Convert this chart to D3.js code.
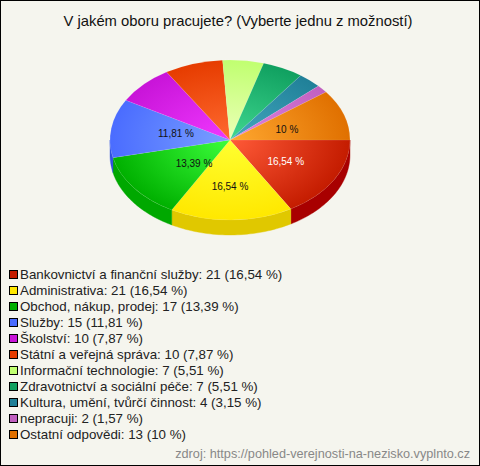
<!DOCTYPE html>
<html><head><meta charset="utf-8">
<script src="https://cdn.jsdelivr.net/npm/d3@7"></script>
<style>html,body{margin:0;padding:0;background:#f5f5ee}svg{display:block}text{font-family:"Liberation Sans",Arial,sans-serif}</style>
</head><body><div id="chart"></div>
<script>
const categories=["Bankovnictví a finanční služby","Administrativa","Obchod, nákup, prodej","Služby","Školství","Státní a veřejná správa","Informační technologie","Zdravotnictví a sociální péče","Kultura, umění, tvůrčí činnost","nepracuji","Ostatní odpovědi"];
const counts=[21,21,17,15,10,10,7,7,4,2,13];
const percentLabels=["16,54 %","16,54 %","13,39 %","11,81 %","7,87 %","7,87 %","5,51 %","5,51 %","3,15 %","1,57 %","10 %"];
const title="V jakém oboru pracujete? (Vyberte jednu z možností)";
const source="zdroj: https://pohled-verejnosti-na-nezisko.vyplnto.cz";

const edgeColors=["#c41c00","#ffe800","#00b000","#4a6cff","#c814d8","#e63c00","#c0ff70","#10a060","#208098","#c060c0","#e07000"];
const coreColors=["#ff5a38","#ffff30","#3cff3c","#7aa0ff","#f038ff","#ff6a30","#ecffb8","#40d890","#44a8c0","#e084e0","#ffa830"];
const wallColors=["#a80000","#e0c800","#00a800","#3050e0"];
const shownLabels={0:["#fff",.535,.52],1:["#111",0,.58],2:["#111",.375,.47],3:["#111",.455,.56],10:["#111",.5,.435]};

const W=480,H=466,cx=230,cy=140,rx=120,ry=80,depth=15;
const svg=d3.select("#chart").append("svg").attr("width",W).attr("height",H);
svg.append("rect").attr("width",W).attr("height",H).attr("fill","#f5f5ee");

const pie=d3.pie().value(d=>d).sort(null).startAngle(Math.PI/2).endAngle(Math.PI/2+2*Math.PI);
const arcs=pie(counts);
const arc=d3.arc().innerRadius(0).outerRadius(rx);
const toParam=a=>a-Math.PI/2;

const defs=svg.append("defs");
arcs.forEach((d,i)=>{
  const g=defs.append("radialGradient").attr("id","g"+i).attr("gradientUnits","userSpaceOnUse").attr("cx",0).attr("cy",0).attr("r",rx);
  g.append("stop").attr("offset","0").attr("stop-color",coreColors[i]);
  g.append("stop").attr("offset","1").attr("stop-color",edgeColors[i]);
});

// side walls
const px=t=>cx+rx*Math.cos(t), py=t=>cy+ry*Math.sin(t);
const wall=svg.append("g");
arcs.forEach((d,i)=>{
  const a=Math.max(toParam(d.startAngle),0), b=Math.min(toParam(d.endAngle),Math.PI);
  if(b<=a) return;
  const ts=d3.range(0,41).map(k=>a+(b-a)*k/40);
  const pts=ts.map(t=>[px(t),py(t)]).concat(ts.slice().reverse().map(t=>[px(t),py(t)+depth]));
  wall.append("path").attr("d",d3.line()(pts)+"Z").attr("fill",wallColors[i]).attr("stroke",wallColors[i]).attr("stroke-width",.4);
});

// top face
const face=svg.append("g").attr("transform",`translate(${cx},${cy}) scale(1,${ry/rx})`);
face.selectAll("path").data(arcs).join("path").attr("d",arc).attr("fill",(d,i)=>`url(#g${i})`).attr("stroke","#fff").attr("stroke-opacity",.15).attr("stroke-width",.6);

// labels
arcs.forEach((d,i)=>{
  const s=shownLabels[i]; if(!s) return;
  const t=(d.startAngle+d.endAngle)/2-Math.PI/2;
  svg.append("text").attr("x",cx+rx*Math.cos(t)*s[1]).attr("y",cy+ry*Math.sin(t)*s[2]+4)
    .attr("text-anchor","middle").attr("font-size",10).attr("fill",s[0]).text(percentLabels[i]);
});

svg.append("text").attr("x",238).attr("y",26).attr("text-anchor","middle").attr("font-size",14.8).attr("fill","#111").text(title);

const y=d3.scalePoint().domain(d3.range(categories.length)).range([274,434]);
const leg=svg.append("g").selectAll("g").data(categories).join("g").attr("transform",(d,i)=>`translate(0,${y(i)})`);
leg.append("rect").attr("x",9.5).attr("y",-3.5).attr("width",8).attr("height",8).attr("fill",(d,i)=>edgeColors[i]).attr("stroke","#000");
leg.append("text").attr("x",20).attr("y",5).attr("font-size",13.33).attr("fill","#222").text((d,i)=>`${d}: ${counts[i]} (${percentLabels[i]})`);

svg.append("text").attr("x",470).attr("y",458).attr("text-anchor","end").attr("font-size",12.7).attr("fill","#888").text(source);
svg.append("rect").attr("x",.5).attr("y",.5).attr("width",W-1).attr("height",H-1).attr("fill","none").attr("stroke","#000");
</script></body></html>
